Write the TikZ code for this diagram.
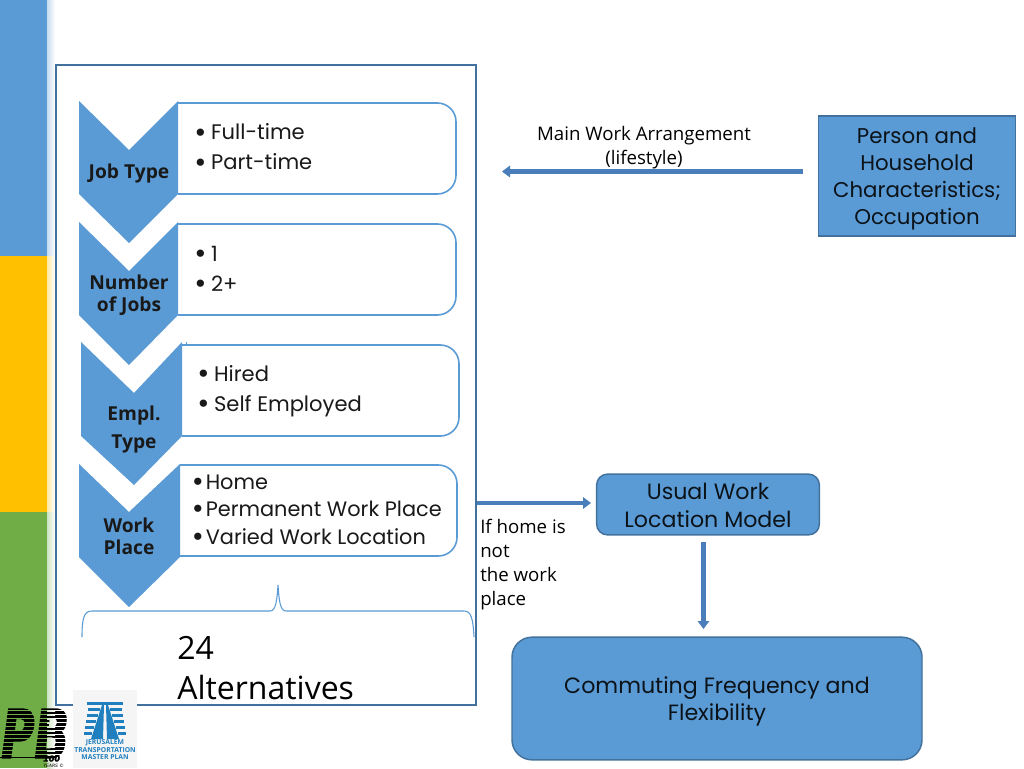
\documentclass[tikz,border=0pt]{standalone}
\usepackage{fontspec}
\usetikzlibrary{arrows.meta,calc}
\setmainfont{Poppins}
\newfontfamily\tah{Open Sans}
\newfontfamily\pbfont[BoldItalicFeatures={FakeBold=2.5}]{DejaVu Sans}
\definecolor{mblue}{HTML}{5B9BD5}
\definecolor{myellow}{HTML}{FFC000}
\definecolor{mgreen}{HTML}{70AD47}
\definecolor{edge}{HTML}{41719C}
\definecolor{arrowc}{HTML}{4A7EBB}
\definecolor{logob}{HTML}{1F7FBF}
\newcommand{\boxfont}{\fontsize{15.8}{22.5}\selectfont}
\newcommand{\boxfontb}{\fontsize{15.65}{20.5}\selectfont}
\newcommand{\personfont}{\fontsize{16}{20.4}\selectfont}
\newcommand{\flowfont}{\fontsize{16.6}{20.4}\selectfont}
\newcommand{\chevfont}{\tah\bfseries\fontsize{14.4}{16.5}\selectfont}
\newcommand{\notefont}{\tah\fontsize{14}{18}\selectfont}
\newcommand{\bu}{\raisebox{-0.1em}{\scalebox{1.4}{•}}}
\tikzset{
  x=0.75pt,y=-0.75pt,
  chev/.style={fill=mblue,draw=none},
  optbox/.style={draw=mblue,line width=1.2pt,fill=white},
  flowbox/.style={draw=edge,line width=1.1pt,fill=mblue,inner sep=0pt},
  flowtext/.style={align=center,inner sep=0pt,text=black!88!mblue,font=\flowfont},
  optlist/.style={anchor=west,align=left,inner sep=0pt,text=black!90,font=\boxfont},
  chevlabel/.style={align=center,inner sep=0pt,text=black!90,font=\chevfont},
  note/.style={align=center,inner sep=0pt,text=black,font=\notefont},
  blockarrow/.style={draw=arrowc,line width=3.2pt,-{Triangle[length=6pt,width=8.5pt]}},
}
\begin{document}
\begin{tikzpicture}
\useasboundingbox (0,0) rectangle (1024,768);
\fill[white] (0,0) rectangle (1024,768);
% side bands
\fill[mblue] (0,0) rectangle (47,256);
\fill[myellow] (0,256) rectangle (47,512);
\fill[mgreen] (0,512) rectangle (47,768);
\shade[left color=mblue!35,right color=white] (47,0) rectangle (55,256);
\shade[left color=myellow!35,right color=white] (47,256) rectangle (55,512);
\shade[left color=mgreen!35,right color=white] (47,512) rectangle (55,768);
% frame
\draw[edge,line width=1.2pt,fill=white] (56,65) rectangle (476,705);
% option boxes
\draw[optbox] (178,103) [rounded corners=14pt] -- (456,103) -- (456,194) [sharp corners] -- (178,194);
\draw[optbox] (178,224) [rounded corners=14pt] -- (456,224) -- (456,315) [sharp corners] -- (178,315);
\draw[optbox] (182,345) [rounded corners=14pt] -- (459,345) -- (459,436) [sharp corners] -- (182,436);
\draw[optbox] (180,465) [rounded corners=14pt] -- (457,465) -- (457,556) [sharp corners] -- (180,556);
\draw[mblue,line width=0.5pt] (186,342) -- (186,345);
% chevrons
\fill[chev] (79,101) -- (129,150) -- (178,101) -- (178,194) -- (129,243) -- (79,194) -- cycle;
\fill[chev] (79,222) -- (129,271) -- (178,222) -- (178,315) -- (129,365) -- (79,315) -- cycle;
\fill[chev] (81,342) -- (134,393) -- (182,342) -- (182,436) -- (134,485) -- (81,436) -- cycle;
\fill[chev] (79,464) -- (129,512) -- (180,464) -- (180,557) -- (129,607) -- (79,557) -- cycle;
% chevron labels
\node[chevlabel] (c1) at (129,173.5) {Job Type};
\node[chevlabel] (c2) at (129,295) {Number\\of Jobs};
\node[chevlabel] (c3a) at (134,416) {Empl.};
\node[chevlabel] (c3b) at (134,444) {Type};
\node[chevlabel] (c4) at (129,536) {Work\\Place};
% option texts
\node[optlist] (o1) at (194,148) {\bu\hspace{3.5pt}Full-time\\\bu\hspace{3.5pt}Part-time};
\node[optlist] (o2) at (194,270) {\bu\hspace{3.5pt}1\\\bu\hspace{3.5pt}2+};
\node[optlist] (o3) at (197,391.5) {\bu\hspace{3.5pt}Hired\\\bu\hspace{3.5pt}Self Employed};
\node[optlist,font=\boxfontb] (o4) at (191.5,510.5) {\bu\hspace{1.5pt}Home\\\bu\hspace{1.5pt}Permanent Work Place\\\bu\hspace{1.5pt}Varied Work Location};
% brace
\draw[mblue,line width=0.8pt] (82,637) .. controls (82,618) and (84,611) .. (92,611) -- (270,611) .. controls (276,611) and (277,600) .. (278,585) .. controls (279,600) and (280,611) .. (286,611) -- (464,611) .. controls (471,611) and (473,618) .. (474,637);
% alternatives
\node[anchor=west,align=left,inner sep=0pt,text=black,font=\tah\fontsize{24}{30}\selectfont] (alt) at (177,668) {24\\Alternatives};
% right side
\node[flowbox,minimum width=147.5pt,minimum height=90pt] (person) at (917,176) {};
\node[flowtext,font=\personfont] (persont) at (917,179) {Person and\\Household\\Characteristics;\\Occupation};
\node[flowbox,rounded corners=8pt,minimum width=167pt,minimum height=45.5pt] (usual) at (708,504.5) {};
\node[flowtext] (usualt) at (708,505.5) {Usual Work\\Location Model};
\node[flowbox,rounded corners=15pt,minimum width=307.5pt,minimum height=92pt] (commute) at (717,698.5) {};
\node[flowtext] (commutet) at (717,701.5) {Commuting Frequency and\\Flexibility};
\node[note] (main) at (644,148) {Main Work Arrangement\\(lifestyle)};
\node[anchor=north west,align=left,inner sep=0pt,text=black,font=\notefont] (ifhome) at (480,519) {If home is\\not\\the work\\place};
\coordinate (a1s) at (803,171.5);
\coordinate (a1e) at (502,171.5);
\coordinate (a2s) at (477,503);
\coordinate (a2e) at (591,503);
\coordinate (a3s) at (703.5,542);
\coordinate (a3e) at (703.5,629);
\draw[blockarrow] (a1s) -- (a1e);
\draw[blockarrow] (a2s) -- (a2e);
\draw[blockarrow] (a3s) -- (a3e);
% logo: Jerusalem
\fill[black!4] (73,690) rectangle (137,768);
\begin{scope}[logob]
\fill (87,702) rectangle (123,705);
\fill (102,705) -- (91,739) -- (103,739) -- (104,705) -- cycle;
\fill (108,705) -- (119,739) -- (107,739) -- (106,705) -- cycle;
\foreach \yy/\xl/\xr in {708/88/100,714/87/98,720/86/96,726/85/94,732/84/92}{
  \fill (\xl,\yy) rectangle (\xr,\yy+3);
  \fill (210-\xr,\yy) rectangle (210-\xl,\yy+3);
}
\end{scope}
\node[inner sep=0pt,align=center,text=logob,font=\tah\bfseries\fontsize{5.1}{5.6}\selectfont] (jtmp) at (105,750) {JERUSALEM\\TRANSPORTATION\\MASTER PLAN};
% logo: PB
\node[inner sep=0pt,anchor=south west] (pb) at (1,758) {\scalebox{0.68}[1]{\pbfont\bfseries\itshape\fontsize{50}{50}\selectfont PB}};
\foreach \yy in {710,714,718,722,726,730,734,738,742,746,750,754}{
  \fill[mgreen] (0,\yy) rectangle (47,\yy+1.1);
  \shade[left color=mgreen!35,right color=white] (47,\yy) rectangle (55,\yy+1.1);
  \fill[white] (55,\yy) rectangle (73,\yy+1.1);
}
\coordinate (rl) at (0,757.5);
\coordinate (rr) at (42,757.5);
\draw[black,line width=0.6pt] (rl) -- (rr);
\node[inner sep=0pt,anchor=west] (hund) at (43,758.5) {\pbfont\bfseries\itshape\fontsize{6}{6}\selectfont 100};
\node[inner sep=0pt,anchor=west] (yrs) at (43,765.5) {\pbfont\itshape\fontsize{3.4}{3.4}\selectfont YEARS ©};
\end{tikzpicture}
\end{document}
